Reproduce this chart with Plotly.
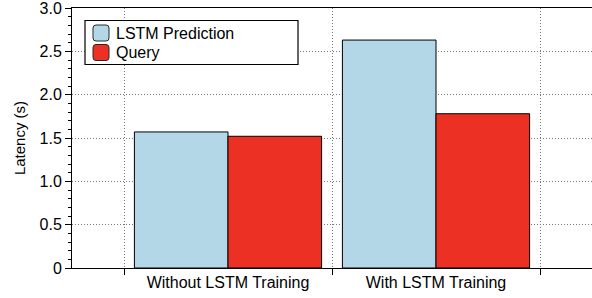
import plotly.graph_objects as go

categories = ["Without LSTM Training", "With LSTM Training"]
lstm_prediction = [1.57, 2.63]
query = [1.52, 1.78]
series_names = ["LSTM Prediction", "Query"]
series_colors = ["rgb(180,215,232)", "rgb(236,49,36)"]
ytick_vals = [0, 0.5, 1.0, 1.5, 2.0, 2.5, 3.0]
ytick_text = ["0", "0.5", "1.0", "1.5", "2.0", "2.5", "3.0"]

FONT = "Liberation Sans, Arial, Helvetica, sans-serif"
GRID = "rgb(120,120,120)"

# plot-area geometry (pixels) used to place the hand-drawn legend
PX0, PW, PY0, PH = 72, 520, 8, 260


def px(x):
    return (x - PX0) / PW


def py(y):
    return (PY0 + PH - y) / PH


def rounded_rect(x0, y0, x1, y1, r=3):
    rx, ry = r / PW, r / PH
    a, b, c, d = px(x0), py(y1), px(x1), py(y0)  # left, bottom, right, top in paper
    return (f"M{a+rx},{b} L{c-rx},{b} Q{c},{b} {c},{b+ry} L{c},{d-ry} Q{c},{d} {c-rx},{d} "
            f"L{a+rx},{d} Q{a},{d} {a},{d-ry} L{a},{b+ry} Q{a},{b} {a+rx},{b} Z")


fig = go.Figure()
for name, vals, col in zip(series_names, [lstm_prediction, query], series_colors):
    fig.add_trace(go.Bar(
        x=categories, y=vals, name=name,
        marker=dict(color=col, line=dict(color="black", width=1)),
    ))

shapes = [dict(type="rect", xref="paper", yref="paper",
               x0=px(85), x1=px(298), y0=py(64.5), y1=py(20.5),
               fillcolor="white", line=dict(color="black", width=1.2), layer="above")]
annotations = []
for i, (name, col) in enumerate(zip(series_names, series_colors)):
    top = 25 + i * 19.5
    shapes.append(dict(type="path", xref="paper", yref="paper",
                       path=rounded_rect(93, top, 109, top + 16),
                       fillcolor=col, line=dict(color="rgb(40,40,40)", width=1), layer="above"))
    annotations.append(dict(xref="paper", yref="paper", x=px(114), y=py(top + 8),
                            xanchor="left", yanchor="middle", showarrow=False,
                            text=name, font=dict(size=16, color="black")))

fig.update_layout(
    width=592, height=298,
    margin=dict(l=72, r=0, t=8, b=30, autoexpand=False),
    paper_bgcolor="white", plot_bgcolor="white",
    barmode="group", bargap=0.1, bargroupgap=0,
    font=dict(family=FONT, size=16, color="black"),
    showlegend=False,
    shapes=shapes,
    annotations=annotations,
    xaxis=dict(
        type="category", range=[-0.75, 1.75], automargin=False,
        tickson="boundaries", ticks="outside", ticklen=6, tickcolor="black",
        showline=True, linecolor="black", linewidth=1, mirror=True,
        showgrid=True, gridcolor=GRID, griddash="1px,2px", gridwidth=1,
        tickfont=dict(size=16),
    ),
    yaxis=dict(
        range=[0, 3.0001], automargin=False, ticklabeloverflow="allow",
        tickvals=ytick_vals, ticktext=ytick_text,
        ticks="outside", ticklen=6, tickcolor="black",
        minor=dict(dtick=0.1, ticks="outside", ticklen=3, tickcolor="black", showgrid=False),
        showline=True, linecolor="black", linewidth=1,
        showgrid=True, gridcolor=GRID, griddash="1px,2px", gridwidth=1,
        zeroline=False,
        tickfont=dict(size=16),
        title=dict(text="Latency (s)", font=dict(size=15), standoff=10),
    ),
)

fig.write_html(
    "out.html",
    config=dict(displayModeBar=False),
    post_script="document.body.style.margin='0';document.body.style.padding='0';",
)
